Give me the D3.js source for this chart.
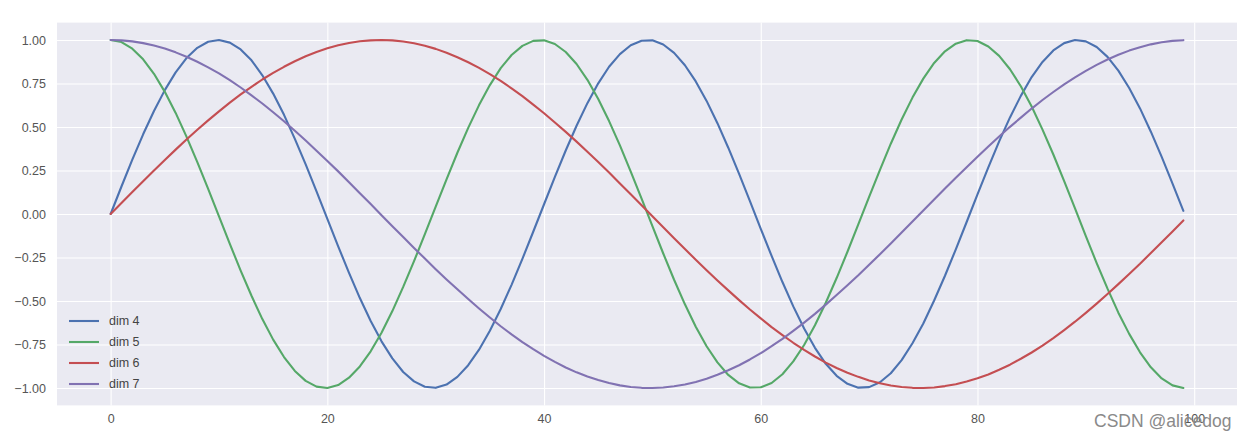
<!DOCTYPE html>
<html><head><meta charset="utf-8">
<script src="https://cdn.jsdelivr.net/npm/d3@7"></script>
<style>body{margin:0;background:#fff;}svg{display:block;}text{font-family:"Liberation Sans",Arial,sans-serif;}</style>
</head><body>
<svg id="c" width="1256" height="441"></svg>
<script>
const seriesNames = ["dim 4", "dim 5", "dim 6", "dim 7"];
const seriesColors = ["#4C72B0", "#55A868", "#C44E52", "#8172B2"];
const xTicks = [0, 20, 40, 60, 80, 100];
const yTicks = [-1.0, -0.75, -0.5, -0.25, 0, 0.25, 0.5, 0.75, 1.0];
const dim4 = [0,.158,.312,.458,.592,.712,.814,.896,.955,.990,
1.000,.985,.946,.883,.797,.692,.570,.432,.285,.130,
-.028,-.186,-.338,-.483,-.615,-.732,-.830,-.908,-.962,-.993,
-.999,-.980,-.936,-.869,-.780,-.671,-.546,-.407,-.258,-.102,
.056,.213,.365,.507,.637,.751,.846,.919,.970,.996,
.998,.974,.926,.855,.762,.650,.522,.381,.231,.074,
-.085,-.241,-.391,-.531,-.658,-.769,-.861,-.930,-.976,-.998,
-.995,-.967,-.915,-.840,-.743,-.629,-.497,-.355,-.203,-.046,
.113,.268,.417,.555,.679,.787,.874,.940,.982,1.000,
.992,.960,.903,.824,.724,.607,.473,.328,.175,.018];
const dim5 = [1,.988,.950,.889,.806,.702,.581,.445,.298,.144,
-.014,-.172,-.325,-.470,-.604,-.722,-.822,-.902,-.959,-.992,
-1.000,-.983,-.941,-.876,-.789,-.682,-.558,-.419,-.271,-.116,
.042,.199,.352,.495,.626,.741,.838,.914,.966,.995,
.998,.977,.931,.862,.771,.661,.534,.394,.244,.088,
-.070,-.227,-.378,-.519,-.648,-.760,-.853,-.925,-.973,-.997,
-.996,-.971,-.921,-.847,-.753,-.639,-.510,-.368,-.217,-.060,
.099,.254,.404,.543,.669,.778,.868,.935,.979,.999,
.994,.963,.909,.832,.734,.618,.485,.342,.189,.032,
-.127,-.282,-.429,-.567,-.689,-.795,-.881,-.945,-.985,-1.000];
const dim6 = [0,.063,.126,.188,.250,.310,.370,.428,.484,.538,
.590,.640,.687,.731,.773,.811,.846,.878,.907,.931,
.952,.970,.983,.993,.998,1.000,.998,.991,.981,.967,
.949,.927,.901,.872,.840,.804,.765,.722,.677,.629,
.579,.526,.472,.416,.358,.299,.239,.175,.113,.050,
-.013,-.076,-.139,-.201,-.263,-.323,-.382,-.439,-.495,-.549,
-.600,-.650,-.696,-.740,-.781,-.819,-.854,-.885,-.912,-.936,
-.957,-.973,-.986,-.994,-.999,-1.000,-.997,-.989,-.978,-.963,
-.944,-.922,-.895,-.866,-.832,-.796,-.756,-.713,-.667,-.619,
-.568,-.515,-.460,-.403,-.345,-.286,-.224,-.162,-.100,-.037];
const dim7 = [1,.998,.992,.982,.968,.951,.929,.904,.875,.843,
.808,.769,.727,.682,.635,.585,.533,.478,.422,.364,
.305,.245,.183,.119,.057,-.007,-.070,-.132,-.195,-.256,
-.317,-.376,-.433,-.489,-.543,-.595,-.645,-.692,-.736,-.777,
-.815,-.850,-.882,-.910,-.934,-.954,-.971,-.985,-.994,-.999,
-1.000,-.997,-.990,-.980,-.965,-.947,-.924,-.898,-.869,-.836,
-.800,-.760,-.718,-.672,-.624,-.574,-.521,-.466,-.410,-.352,
-.291,-.231,-.169,-.106,-.043,.020,.083,.146,.208,.269,
.329,.388,.445,.501,.554,.606,.655,.701,.745,.785,
.823,.857,.888,.915,.939,.958,.975,.987,.995,.999];
const watermark = "CSDN @alicedog";

const series = [dim4, dim5, dim6, dim7];
const svg = d3.select("#c");
const L = 57, R = 1237, T = 22.6, B = 405.4;
const x = d3.scaleLinear().domain([-4.95, 103.95]).range([L, R]);
const y = d3.scaleLinear().domain([-1.1, 1.1]).range([B, T]);

svg.append("rect").attr("x", L).attr("y", T).attr("width", R - L).attr("height", B - T).attr("fill", "#EAEAF2");

const fmtY = v => d3.format(".2f")(v).replace("-", "\u2212");
const gx = svg.append("g").attr("transform", `translate(0,${B})`)
  .call(d3.axisBottom(x).tickValues(xTicks).tickSize(-(B - T)).tickPadding(9).tickFormat(d3.format("d")));
const gy = svg.append("g").attr("transform", `translate(${L},0)`)
  .call(d3.axisLeft(y).tickValues(yTicks).tickSize(-(R - L)).tickPadding(11).tickFormat(fmtY));
[gx, gy].forEach(g => {
  g.select(".domain").remove();
  g.selectAll(".tick line").attr("stroke", "#fff").attr("stroke-width", 1.1);
  g.selectAll(".tick text").attr("fill", "#555").attr("font-size", 12.5).attr("font-family", "Liberation Sans, Arial, sans-serif");
});

const line = d3.line().x((d, i) => x(i)).y(d => y(d));
series.forEach((s, k) => {
  svg.append("path").datum(s).attr("d", line).attr("fill", "none")
    .attr("stroke", seriesColors[k]).attr("stroke-width", 2.1).attr("stroke-linejoin", "round").attr("stroke-linecap", "round");
});

const lg = svg.append("g");
seriesNames.forEach((n, k) => {
  const yy = 321 + k * 21;
  lg.append("line").attr("x1", 69).attr("x2", 99).attr("y1", yy).attr("y2", yy)
    .attr("stroke", seriesColors[k]).attr("stroke-width", 2.1);
  lg.append("text").attr("x", 109).attr("y", yy).attr("dy", "0.35em").attr("font-size", 12.5).attr("fill", "#444").text(n);
});

svg.append("text").attr("x", 1094).attr("y", 427).attr("font-size", 17.5).attr("fill", "#8a8a8a")
  .attr("font-family", "Liberation Sans, Arial, sans-serif").text(watermark);
</script>
</body></html>
